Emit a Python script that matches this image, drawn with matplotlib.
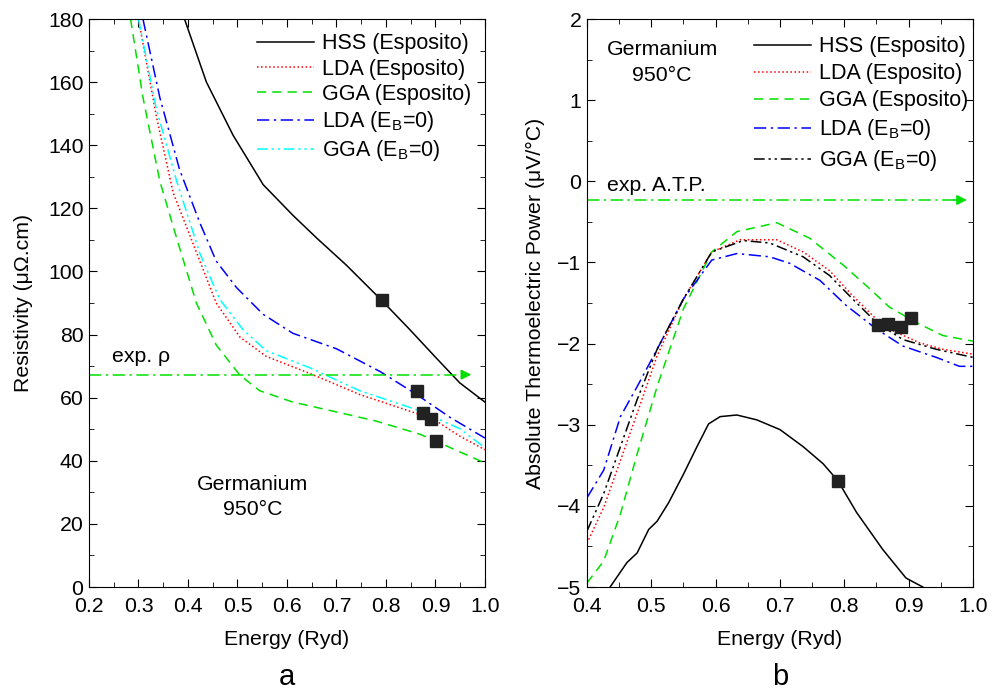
import matplotlib
matplotlib.use('Agg')
import matplotlib.pyplot as plt
from matplotlib.ticker import MultipleLocator

plt.rcParams['font.family'] = ['Liberation Sans', 'DejaVu Sans']
plt.rcParams['mathtext.fontset'] = 'custom'
plt.rcParams['mathtext.rm'] = 'Liberation Sans'
plt.rcParams['font.size'] = 15.3

# ---- panel a : resistivity ----
hss_x = [0.393, 0.437, 0.491, 0.552, 0.612, 0.66, 0.72, 0.791, 0.848, 0.902, 0.949, 1.0]
hss_y = [180, 160.1, 143.2, 127.5, 117.8, 110.6, 102.0, 90.9, 81.6, 72.5, 64.7, 58.6]
ldae_x = [0.30, 0.336, 0.37, 0.424, 0.457, 0.505, 0.558, 0.646, 0.747, 0.862, 0.902, 0.949, 1.0]
ldae_y = [180, 149.2, 125.0, 103.3, 90.0, 79.2, 73.1, 67.7, 61.0, 55.0, 52.6, 47.8, 43.5]
ggae_x = [0.284, 0.309, 0.343, 0.377, 0.417, 0.457, 0.505, 0.545, 0.612, 0.68, 0.78, 0.869, 1.0]
ggae_y = [180, 155.2, 128.7, 110.6, 90.0, 76.7, 67.1, 62.2, 58.6, 56.2, 52.6, 48.4, 39.3]
lda0_x = [0.309, 0.343, 0.383, 0.424, 0.457, 0.498, 0.552, 0.612, 0.70, 0.788, 0.862, 0.929, 1.0]
lda0_y = [180, 155.2, 132.3, 115.4, 103.3, 94.9, 86.4, 80.4, 75.5, 68.3, 61.0, 53.8, 47.2]
gga0_x = [0.30, 0.336, 0.377, 0.424, 0.464, 0.511, 0.558, 0.646, 0.747, 0.862, 0.949, 1.0]
gga0_y = [180, 151.6, 128.7, 105.7, 91.2, 81.6, 74.9, 69.5, 62.2, 56.2, 50.2, 44.1]
sq_a_x = [0.791, 0.862, 0.875, 0.89, 0.902]
sq_a_y = [90.9, 62.2, 55.2, 53.2, 46.3]
exp_rho = 67.3

# ---- panel b : thermoelectric power ----
hssb_x = [0.436, 0.462, 0.478, 0.496, 0.509, 0.527, 0.55, 0.571, 0.589, 0.607, 0.633, 0.664,
          0.70, 0.736, 0.767, 0.79, 0.819, 0.86, 0.896, 0.922]
hssb_y = [-5.0, -4.7, -4.58, -4.29, -4.19, -3.96, -3.61, -3.27, -2.99, -2.90, -2.88, -2.94,
          -3.06, -3.27, -3.48, -3.69, -4.08, -4.54, -4.89, -5.0]
ldaeb_x = [0.4, 0.426, 0.452, 0.478, 0.509, 0.55, 0.594, 0.638, 0.695, 0.736, 0.777, 0.813,
           0.85, 0.875, 0.917, 0.953, 1.0]
ldaeb_y = [-4.46, -4.02, -3.44, -2.86, -2.15, -1.45, -0.87, -0.72, -0.72, -0.87, -1.10, -1.41,
           -1.70, -1.84, -1.99, -2.07, -2.13]
ggaeb_x = [0.4, 0.426, 0.452, 0.478, 0.509, 0.55, 0.594, 0.633, 0.695, 0.746, 0.798, 0.839,
           0.87, 0.912, 0.953, 1.0]
ggaeb_y = [-4.95, -4.68, -4.10, -3.36, -2.53, -1.57, -0.87, -0.62, -0.51, -0.70, -1.03, -1.32,
           -1.55, -1.74, -1.90, -1.97]
lda0b_x = [0.4, 0.426, 0.452, 0.478, 0.509, 0.55, 0.594, 0.633, 0.684, 0.715, 0.762, 0.803,
           0.85, 0.891, 0.943, 0.979, 1.0]
lda0b_y = [-3.9, -3.56, -2.90, -2.53, -2.07, -1.45, -0.97, -0.89, -0.93, -1.01, -1.22, -1.53,
           -1.82, -2.03, -2.17, -2.28, -2.28]
gga0b_x = [0.4, 0.426, 0.452, 0.478, 0.509, 0.55, 0.594, 0.643, 0.684, 0.736, 0.777, 0.813,
           0.85, 0.891, 0.943, 1.0]
gga0b_y = [-4.31, -3.85, -3.27, -2.69, -2.07, -1.45, -0.87, -0.73, -0.76, -0.93, -1.16, -1.45,
           -1.74, -1.95, -2.07, -2.17]
sq_b_x = [0.79, 0.852, 0.868, 0.888, 0.904]
sq_b_y = [-3.69, -1.77, -1.76, -1.80, -1.69]
exp_atp = -0.23

GREEN = '#00e000'
lw = 1.1
dashdotdot = (0, (7, 2.5, 1.5, 2.5, 1.5, 2.5))
dashdot = (8, 3, 1.5, 3)

fig = plt.figure(figsize=(9.91, 6.96), dpi=100)
ax1 = fig.add_axes([0.0898, 0.1566, 0.3996, 0.816])
ax2 = fig.add_axes([0.5923, 0.1566, 0.3895, 0.816])

# panel a
ax1.plot(hss_x, hss_y, '-', color='black', lw=lw, label='HSS (Esposito)')
ax1.plot(ldae_x, ldae_y, ':', color='red', lw=lw, label='LDA (Esposito)')
ax1.plot(ggae_x, ggae_y, '--', color=GREEN, lw=lw, dashes=(6, 4), label='GGA (Esposito)')
ax1.plot(lda0_x, lda0_y, color='blue', lw=lw, dashes=dashdot, label=r'LDA (E$_\mathrm{B}$=0)')
ax1.plot(gga0_x, gga0_y, color='cyan', lw=lw, linestyle=dashdotdot, label=r'GGA (E$_\mathrm{B}$=0)')
ax1.plot(sq_a_x, sq_a_y, 's', color='#222222', ms=8, ls='none')
ax1.plot([0.2, 0.965], [exp_rho, exp_rho], color=GREEN, lw=lw, dashes=dashdot)
ax1.annotate('', xy=(0.978, exp_rho), xytext=(0.95, exp_rho),
             arrowprops=dict(arrowstyle='-|>', color=GREEN, lw=lw, mutation_scale=15))
ax1.text(0.246, 73.2, 'exp. ρ', va='center')
ax1.text(0.531, 32.4, 'Germanium', ha='center', va='center')
ax1.text(0.531, 24.5, '950°C', ha='center', va='center')
ax1.set_xlim(0.2, 1.0)
ax1.set_ylim(0, 180)
ax1.xaxis.set_major_locator(MultipleLocator(0.1))
ax1.xaxis.set_minor_locator(MultipleLocator(0.05))
ax1.yaxis.set_major_locator(MultipleLocator(20))
ax1.yaxis.set_minor_locator(MultipleLocator(10))
ax1.set_xlabel('Energy (Ryd)')
ax1.set_ylabel('Resistivity (μΩ.cm)')
ax1.yaxis.set_label_coords(-0.142, 0.5)
ax1.legend(loc='upper left', bbox_to_anchor=(0.424, 0.975), frameon=False, handlelength=2.65,
           handletextpad=0.37, labelspacing=0.2, borderpad=0, borderaxespad=0, fontsize=15.5)

# panel b
ax2.plot(hssb_x, hssb_y, '-', color='black', lw=lw, label='HSS (Esposito)')
ax2.plot(ldaeb_x, ldaeb_y, ':', color='red', lw=lw, label='LDA (Esposito)')
ax2.plot(ggaeb_x, ggaeb_y, '--', color=GREEN, lw=lw, dashes=(6, 4), label='GGA (Esposito)')
ax2.plot(lda0b_x, lda0b_y, color='blue', lw=lw, dashes=dashdot, label=r'LDA (E$_\mathrm{B}$=0)')
ax2.plot(gga0b_x, gga0b_y, color='black', lw=lw, linestyle=dashdotdot, label=r'GGA (E$_\mathrm{B}$=0)')
ax2.plot(sq_b_x, sq_b_y, 's', color='#222222', ms=8, ls='none')
ax2.plot([0.4, 0.98], [exp_atp, exp_atp], color=GREEN, lw=lw, dashes=dashdot)
ax2.annotate('', xy=(0.995, exp_atp), xytext=(0.965, exp_atp),
             arrowprops=dict(arrowstyle='-|>', color=GREEN, lw=lw, mutation_scale=15))
ax2.text(0.431, -0.056, 'exp. A.T.P.', va='center')
ax2.text(0.517, 1.63, 'Germanium', ha='center', va='center')
ax2.text(0.517, 1.30, '950°C', ha='center', va='center')
ax2.set_xlim(0.4, 1.0)
ax2.set_ylim(-5, 2)
ax2.xaxis.set_major_locator(MultipleLocator(0.1))
ax2.xaxis.set_minor_locator(MultipleLocator(0.05))
ax2.yaxis.set_major_locator(MultipleLocator(1))
ax2.yaxis.set_minor_locator(MultipleLocator(0.5))
ax2.set_xlabel('Energy (Ryd)')
ax2.set_ylabel('Absolute Thermoelectric Power (μV/°C)')
ax2.yaxis.set_label_coords(-0.11, 0.5)
ax2.legend(loc='upper left', bbox_to_anchor=(0.433, 0.97), frameon=False, handlelength=2.65,
           handletextpad=0.37, labelspacing=0.28, borderpad=0, borderaxespad=0, fontsize=15.5)

for ax in (ax1, ax2):
    ax.tick_params(which='both', direction='in', top=True, right=True, labelsize=15.3)
    ax.tick_params(which='major', length=6)
    ax.tick_params(which='minor', length=3.5)
    ax.tick_params(axis='x', pad=7.5)
    ax.tick_params(axis='y', pad=4)
    ax.set_xticklabels([f'{t:.1f}' for t in ax.get_xticks()])
    ax.xaxis.set_label_coords(0.5, -0.076)

fig.text(0.2895, 0.016, 'a', ha='center', fontsize=21)
fig.text(0.787, 0.016, 'b', ha='center', fontsize=21)

fig.savefig('out.png', dpi=100)
